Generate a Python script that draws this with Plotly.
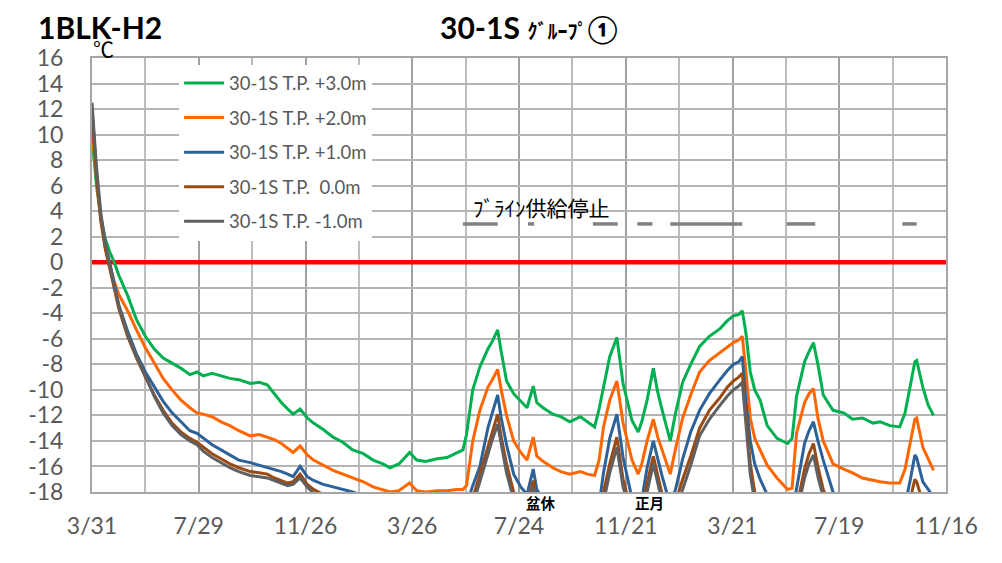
import plotly.graph_objects as go
import pandas as pd

# ---------------- data ----------------
start_date = "2021-03-31"
end_date = "2023-11-16"

days = [0, 5, 10, 15, 20, 25, 30, 40, 50, 60, 70, 80, 90, 100, 110, 118, 125, 135, 145, 155,
        165, 178, 188, 197, 205, 213, 220, 226, 234, 242, 249, 260, 271, 282, 293, 305, 316, 327, 335, 345,
        357, 365, 375, 388, 399, 410, 417, 421, 428, 436, 445, 450, 456, 460, 466, 474, 482, 489, 496, 500,
        507, 518, 527, 537, 549, 557, 565, 570, 575, 582, 590, 597, 607, 614, 618, 624, 631, 636, 641, 650,
        656, 664, 673, 683, 694, 706, 714, 721, 727, 731, 735, 740, 745, 751, 759, 770, 782, 787, 792, 801,
        806, 811, 816, 822, 833, 845, 855, 866, 878, 886, 897, 908, 914, 920, 925, 927, 934, 940, 946]

tp_p30 = [9.9, 6.0, 3.5, 1.8, 0.8, 0.0, -1.0, -2.6, -4.5, -5.8, -6.8, -7.5, -7.9, -8.3, -8.8, -8.6, -8.9, -8.7, -8.9, -9.1,
          -9.2, -9.5, -9.4, -9.6, -10.3, -11.0, -11.5, -11.9, -11.5, -12.2, -12.6, -13.1, -13.7, -14.1, -14.7, -15.0, -15.5, -15.8, -16.1, -15.8,
          -14.9, -15.5, -15.6, -15.4, -15.3, -14.9, -14.7, -13.5, -10.0, -8.2, -6.8, -6.2, -5.3, -7.0, -9.3, -10.3, -10.9, -11.4, -9.7, -11.0,
          -11.4, -11.9, -12.1, -12.5, -12.1, -12.5, -12.9, -11.5, -9.8, -7.4, -5.9, -9.5, -12.4, -13.3, -12.5, -10.8, -8.3, -10.2, -11.6, -14.0,
          -11.8, -9.4, -8.0, -6.6, -5.8, -5.2, -4.6, -4.2, -4.1, -3.8, -5.5, -8.6, -10.0, -10.8, -12.8, -13.8, -14.2, -13.8, -10.5, -7.8,
          -7.0, -6.3, -8.0, -10.4, -11.6, -11.8, -12.3, -12.2, -12.6, -12.5, -12.8, -12.9, -11.8, -9.5, -7.8, -7.7, -9.8, -11.2, -12.0]

tp_p20 = [10.5, 6.5, 3.3, 1.2, -0.2, -1.5, -2.5, -3.8, -5.3, -6.7, -7.9, -9.1, -10.0, -10.8, -11.4, -11.8, -11.9, -12.1, -12.5, -12.8,
          -13.2, -13.6, -13.5, -13.7, -13.9, -14.2, -14.6, -14.9, -14.4, -15.1, -15.5, -15.9, -16.3, -16.6, -16.9, -17.2, -17.6, -17.8, -18.0, -17.9,
          -17.3, -17.9, -18.0, -17.9, -17.9, -17.8, -17.8, -17.5, -14.0, -11.6, -9.8, -9.2, -8.4, -10.0, -12.0, -14.0, -14.9, -15.5, -13.7, -15.2,
          -15.6, -16.1, -16.4, -16.6, -16.4, -16.6, -16.7, -15.5, -12.9, -10.8, -9.3, -12.6, -15.5, -16.6, -15.8, -14.0, -12.3, -13.7, -14.7, -16.6,
          -14.6, -12.2, -10.4, -8.6, -7.7, -7.1, -6.7, -6.3, -6.1, -5.8, -8.5, -12.2, -13.8, -14.7, -15.9, -16.9, -17.8, -17.7, -13.4, -11.0,
          -10.3, -9.9, -12.2, -14.0, -15.8, -16.2, -16.5, -16.9, -17.1, -17.2, -17.3, -17.3, -16.2, -14.0, -12.3, -12.2, -14.5, -15.4, -16.3]

tp_p10 = [12.0, 7.0, 3.5, 1.3, -0.1, -1.8, -3.3, -5.4, -7.2, -8.6, -9.8, -10.9, -11.8, -12.5, -13.2, -13.4, -13.8, -14.3, -14.7, -15.1,
          -15.5, -15.7, -15.9, -16.1, -16.2, -16.4, -16.6, -16.8, -16.0, -16.8, -17.1, -17.4, -17.6, -17.8, -18.0, -18.3, -18.5, -18.7, -18.9, -19.0,
          -18.8, -19.1, -19.2, -19.2, -19.2, -19.1, -19.1, -19.0, -17.5, -16.0, -13.0, -11.8, -10.4, -12.2, -14.3, -16.6, -17.6, -18.2, -16.2, -17.8,
          -18.6, -19.2, -19.5, -19.7, -19.8, -19.9, -20.0, -19.0, -16.5, -13.8, -11.9, -15.3, -18.5, -19.5, -18.6, -16.1, -14.0, -15.4, -16.8, -19.0,
          -17.8, -15.4, -13.3, -11.6, -10.3, -9.2, -8.5, -8.0, -7.8, -7.4, -10.8, -14.0, -15.8, -17.0, -18.2, -19.3, -19.8, -19.7, -17.8, -14.2,
          -13.2, -12.5, -14.0, -15.5, -18.0, -19.0, -19.4, -19.6, -19.8, -19.8, -19.9, -19.9, -19.0, -17.0, -15.1, -15.3, -17.2, -17.8, -18.4]

tp_000 = [11.8, 6.8, 3.2, 1.0, -0.5, -2.0, -3.6, -5.8, -7.5, -9.0, -10.4, -11.6, -12.6, -13.3, -13.8, -14.1, -14.5, -15.0, -15.4, -15.8,
          -16.1, -16.4, -16.5, -16.6, -16.9, -17.1, -17.3, -17.2, -16.6, -17.4, -17.8, -18.2, -18.5, -18.8, -19.0, -19.2, -19.4, -19.6, -19.8, -19.9,
          -19.8, -20.0, -20.1, -20.1, -20.1, -20.0, -20.0, -19.9, -18.5, -16.6, -14.4, -13.2, -11.9, -13.7, -15.8, -18.0, -19.0, -19.2, -17.1, -18.8,
          -19.4, -19.8, -20.0, -20.2, -20.3, -20.3, -20.4, -19.8, -18.0, -15.8, -13.7, -17.0, -19.8, -20.3, -19.5, -17.3, -15.2, -16.7, -18.2, -19.8,
          -18.8, -17.0, -15.2, -13.0, -11.6, -10.6, -9.8, -9.3, -9.0, -8.7, -12.0, -15.8, -18.0, -19.2, -19.8, -20.3, -20.5, -20.4, -19.2, -16.2,
          -15.0, -14.2, -16.0, -17.8, -19.6, -20.1, -20.3, -20.4, -20.5, -20.5, -20.6, -20.6, -20.0, -18.5, -17.0, -17.2, -18.8, -19.4, -19.8]

tp_m10 = [12.5, 7.5, 3.8, 1.5, -0.2, -1.8, -3.4, -5.6, -7.4, -8.9, -10.5, -11.8, -12.8, -13.5, -14.0, -14.3, -14.8, -15.3, -15.7, -16.1,
          -16.4, -16.7, -16.8, -16.9, -17.1, -17.3, -17.5, -17.4, -16.9, -17.6, -18.1, -18.5, -18.8, -19.0, -19.2, -19.4, -19.6, -19.8, -20.0, -20.1,
          -20.0, -20.2, -20.3, -20.3, -20.3, -20.2, -20.2, -20.1, -19.0, -17.2, -15.0, -13.9, -12.7, -14.3, -16.5, -18.6, -19.4, -19.6, -17.6, -19.3,
          -19.8, -20.1, -20.3, -20.4, -20.5, -20.5, -20.6, -20.2, -18.8, -16.5, -14.5, -17.6, -20.1, -20.5, -19.9, -18.0, -15.8, -17.3, -18.8, -20.2,
          -19.3, -17.8, -15.9, -13.6, -12.3, -11.2, -10.5, -10.0, -9.7, -9.4, -12.8, -16.6, -18.8, -19.8, -20.3, -20.6, -20.8, -20.7, -19.8, -16.9,
          -15.8, -15.1, -16.8, -18.4, -20.0, -20.4, -20.6, -20.7, -20.8, -20.8, -20.9, -20.9, -20.5, -19.5, -18.3, -18.5, -19.8, -20.2, -20.5]

series_names = ["30-1S T.P. +3.0m", "30-1S T.P. +2.0m", "30-1S T.P. +1.0m",
                "30-1S T.P.  0.0m", "30-1S T.P. -1.0m"]
series_values = [tp_p30, tp_p20, tp_p10, tp_000, tp_m10]
series_colors = ["#00b050", "#ff6600", "#2c6299", "#9c4a14", "#606060"]

# brine supply stop periods (day offsets)
stop_start = [417, 490, 563, 613, 650, 781, 911]
stop_end = [456, 497, 591, 630, 731, 813, 927]
stop_level = 3.0

freeze_level = 0.0
y_ticks = list(range(-18, 17, 2))

# ---------------- figure ----------------
base = pd.Timestamp(start_date)
end = pd.Timestamp(end_date)
to_date = lambda d: base + pd.Timedelta(days=d)
dates = [to_date(d) for d in days]

fig = go.Figure()

# 0 degC reference line (drawn first so data lies on top)
fig.add_trace(go.Scatter(x=[base, end], y=[freeze_level, freeze_level], mode="lines",
                         showlegend=False, hoverinfo="skip",
                         line=dict(color="#ff0000", width=4.5)))

for i, (name, vals, col) in enumerate(zip(series_names, series_values, series_colors)):
    fig.add_trace(go.Scatter(
        x=dates, y=vals, mode="lines", name=name,
        line=dict(color=col, width=3),
        legendgroup=f"g{i}",
    ))

sx, sy = [], []
for a, b in zip(stop_start, stop_end):
    sx += [to_date(a), to_date(b), None]
    sy += [stop_level, stop_level, None]
fig.add_trace(go.Scatter(x=sx, y=sy, mode="lines", showlegend=False,
                         line=dict(color="#808080", width=3.5)))

day_ms = 86400000
fig.update_xaxes(
    type="date",
    range=[base, end],
    tick0=start_date, dtick=120 * day_ms, tickformat="%-m/%-d",
    showgrid=True, gridcolor="#a0a0a0", gridwidth=2,
    minor=dict(tick0=start_date, dtick=60 * day_ms, showgrid=True,
               gridcolor="#bdbdbd", gridwidth=1.5),
    showline=True, linecolor="#a6a6a6", linewidth=2, mirror=True,
    ticks="", tickfont=dict(family="Lato", size=23, color="#595959"),
    ticklabelstandoff=12, zeroline=False,
)
fig.update_yaxes(
    range=[-18, 16], tickvals=y_ticks, ticktext=[str(v) for v in y_ticks],
    showgrid=True, gridcolor="#b4b4b4", gridwidth=1.5,
    showline=True, linecolor="#a6a6a6", linewidth=2, mirror=True,
    ticks="", tickfont=dict(family="Lato", size=23, color="#595959"),
    ticklabelstandoff=22, zeroline=False,
)

# page body has an 8px margin: figure is sized/offset so the plot lands where the reference has it
fig.update_layout(
    width=994, height=555,
    margin=dict(l=84, r=56, t=50, b=71),
    paper_bgcolor="white", plot_bgcolor="white",
    showlegend=True,
    legend=dict(x=0.102, y=0.985, xanchor="left", yanchor="top",
                bgcolor="white", borderwidth=0,
                font=dict(family="Lato", size=18.5, color="#595959"),
                tracegroupgap=7.5, itemwidth=40),
    annotations=[
        dict(text="<b>1BLK-H2</b>", xref="paper", yref="paper", x=-0.066, y=1.071,
             xanchor="left", yanchor="middle", showarrow=False,
             font=dict(family="Lato", size=30, color="black")),
        dict(text="℃", xref="paper", yref="paper", x=-0.001, y=1.022,
             xanchor="left", yanchor="middle", showarrow=False,
             font=dict(family="Noto Sans CJK JP", size=21, color="black")),
        dict(text="<b>30-1S</b> <b><span style=\"font-size:20px\">ｸﾞﾙｰﾌﾟ</span><span style=\"font-size:27px\">①</span></b>",
             xref="paper", yref="paper", x=0.405, y=1.071,
             xanchor="left", yanchor="middle", showarrow=False,
             font=dict(family="Lato, Noto Sans CJK JP", size=30, color="black")),
        dict(text="ﾌﾞﾗｲﾝ供給停止", xref="paper", yref="paper", x=0.444, y=0.656,
             xanchor="left", yanchor="middle", showarrow=False,
             font=dict(family="Noto Sans CJK JP", size=21, color="black")),
        dict(text="<b>盆休</b>", xref="x", yref="paper", x=to_date(505), y=-0.024,
             xanchor="center", yanchor="middle", showarrow=False,
             font=dict(family="Noto Sans CJK JP", size=14.5, color="black")),
        dict(text="<b>正月</b>", xref="x", yref="paper", x=to_date(627), y=-0.024,
             xanchor="center", yanchor="middle", showarrow=False,
             font=dict(family="Noto Sans CJK JP", size=14.5, color="black")),
    ],
)

fig.write_html("out.html")
